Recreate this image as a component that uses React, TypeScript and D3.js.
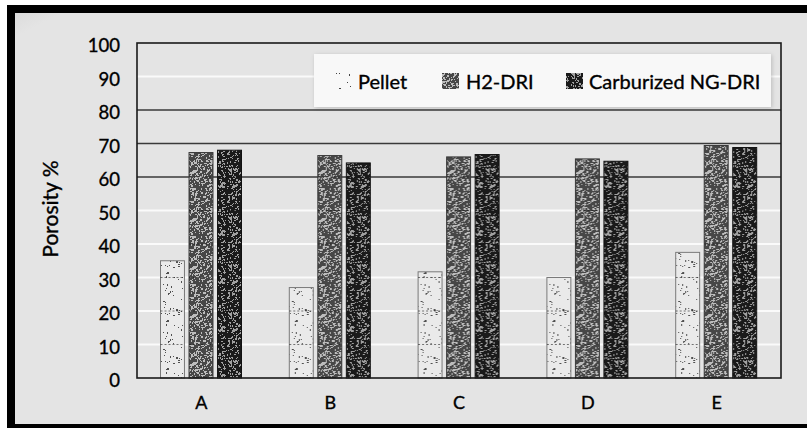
import React from "react";
import * as d3 from "d3";

const categories = ["A", "B", "C", "D", "E"];
const seriesNames = ["Pellet", "H2-DRI", "Carburized NG-DRI"];
const pellet = [35, 27, 31.7, 30, 37.5];
const h2dri = [67.3, 66.4, 66, 65.4, 69.4];
const carbNgDri = [68, 64.2, 66.7, 64.7, 68.8];
const yTicks = [0, 10, 20, 30, 40, 50, 60, 70, 80, 90, 100];
const darkGridValues = [60, 70, 80];

const W = 807;
const H = 428;
const plot = { left: 137, right: 781, top: 43, bottom: 378 };
const FONT = "Lato, 'Open Sans', sans-serif";
const textWeight = { stroke: "#000", strokeWidth: 0.35 };

// deterministic speckle positions for the fill textures
function speckles(seed: number, count: number, size: number, big: number) {
  let s = seed;
  const next = () => {
    s = (s * 1103515245 + 12345) % 2147483648;
    return s / 2147483648;
  };
  const pts: { x: number; y: number; w: number; h: number }[] = [];
  for (let i = 0; i < count; i++) {
    pts.push({
      x: Math.floor(next() * size),
      y: Math.floor(next() * size),
      w: next() < big ? 2 : 1,
      h: next() < big ? 2 : 1,
    });
  }
  return pts;
}

const textures = [
  { id: "tex-pellet", bg: "#eaeaea", dot: "#505050", count: 70, seed: 7, big: 0.25, stroke: "#7a7a7a" },
  { id: "tex-h2", bg: "#474747", dot: "#bdbdbd", count: 520, seed: 19, big: 0.3, stroke: "#3a3a3a" },
  { id: "tex-carb", bg: "#1a1a1a", dot: "#a0a0a0", count: 380, seed: 41, big: 0.35, stroke: "#111" },
];
const TILE = 48;

export default function App() {
  const values = [pellet, h2dri, carbNgDri];
  const y = d3.scaleLinear().domain([0, 100]).range([plot.bottom, plot.top]);
  const x0 = d3.scaleBand<string>().domain(categories).range([plot.left, plot.right]).padding(0);
  const x1 = d3
    .scaleBand<string>()
    .domain(seriesNames)
    .range([23.5, 104.5])
    .paddingInner(0.16)
    .paddingOuter(0);

  return (
    <div style={{ position: "absolute", left: 0, top: 0, width: W, height: H }}>
      <svg width={W} height={H} style={{ display: "block" }}>
        <defs>
          {textures.map((t) => (
            <pattern key={t.id} id={t.id} width={TILE} height={TILE} patternUnits="userSpaceOnUse">
              <rect width={TILE} height={TILE} fill={t.bg} />
              {speckles(t.seed, t.count, TILE, t.big).map((p, i) => (
                <rect key={i} x={p.x} y={p.y} width={p.w} height={p.h} fill={t.dot} />
              ))}
            </pattern>
          ))}
          <filter id="soft" x="-10%" y="-20%" width="120%" height="140%">
            <feDropShadow dx="1" dy="1" stdDeviation="2" floodColor="#000" floodOpacity="0.18" />
          </filter>
          <linearGradient id="panelShade" x1="0" y1="0" x2="1" y2="1">
            <stop offset="0" stopColor="#dcdcdc" />
            <stop offset="0.03" stopColor="#e4e4e4" />
            <stop offset="1" stopColor="#e4e4e4" />
          </linearGradient>
        </defs>

        {/* outer frame */}
        <rect x={0} y={0} width={W} height={H} fill="#ffffff" />
        <rect x={7} y={5} width={W - 7} height={H - 5} fill="#000" />
        <rect x={15} y={13} width={W - 15} height={424 - 13} fill="url(#panelShade)" />

        {/* gridlines */}
        {yTicks
          .filter((v) => v > 0 && v < 100)
          .map((v) => {
            const dark = darkGridValues.includes(v);
            return (
              <line
                key={v}
                x1={plot.left}
                x2={plot.right}
                y1={y(v)}
                y2={y(v)}
                stroke={dark ? "#3a3a3a" : "#fafafa"}
                strokeWidth={dark ? 1.5 : 2}
              />
            );
          })}

        {/* bars */}
        {categories.map((c, ci) => (
          <g key={c} transform={`translate(${x0(c)},0)`}>
            {seriesNames.map((s, si) => {
              const v = values[si][ci];
              const bx = x1(s)!;
              const bw = x1.bandwidth();
              return (
                <g key={s}>
                  <rect
                    x={bx}
                    y={y(v)}
                    width={bw}
                    height={y(0) - y(v)}
                    fill={`url(#${textures[si].id})`}
                    stroke={textures[si].stroke}
                    strokeWidth={1}
                  />
                  {yTicks
                    .filter((t) => t > 0 && t < v)
                    .map((t) => (
                      <line
                        key={t}
                        x1={bx}
                        x2={bx + bw}
                        y1={y(t)}
                        y2={y(t)}
                        stroke="#111"
                        strokeWidth={1}
                        strokeDasharray="2 2"
                        opacity={0.55}
                      />
                    ))}
                </g>
              );
            })}
          </g>
        ))}

        {/* plot frame */}
        <rect
          x={plot.left}
          y={plot.top}
          width={plot.right - plot.left}
          height={plot.bottom - plot.top}
          fill="none"
          stroke="#1a1a1a"
          strokeWidth={1.6}
        />

        {/* y tick labels */}
        {yTicks.map((v) => (
          <text
            key={v}
            x={120}
            y={y(v) + 2}
            textAnchor="end"
            dominantBaseline="central"
            fontFamily={FONT}
            fontSize={18.5}
            fill="#000"
            {...textWeight}
          >
            {v}
          </text>
        ))}

        {/* y axis title */}
        <text
          transform={`translate(58,209) rotate(-90)`}
          textAnchor="middle"
          fontFamily={FONT}
          fontSize={21}
          fill="#000"
          {...textWeight}
        >
          Porosity %
        </text>

        {/* x labels */}
        {categories.map((c) => (
          <text
            key={c}
            x={x0(c)! + x0.bandwidth() / 2}
            y={409}
            textAnchor="middle"
            fontFamily={FONT}
            fontSize={18}
            fill="#000"
            {...textWeight}
          >
            {c}
          </text>
        ))}

        {/* legend */}
        <g>
          <rect x={314} y={54} width={457} height={53} fill="#f8f8f8" filter="url(#soft)" />
          {[
            { sx: 336, tx: 358 },
            { sx: 442, tx: 466 },
            { sx: 566, tx: 589 },
          ].map((p, i) => (
            <g key={seriesNames[i]}>
              {i === 0 ? (
                <g fill="#444">
                  <rect x={p.sx} y={73} width={1} height={1} />
                  <rect x={p.sx + 3} y={73} width={1} height={1} />
                  <rect x={p.sx + 13} y={74} width={1} height={2} />
                  <rect x={p.sx + 11} y={82} width={1} height={1} />
                  <rect x={p.sx + 3} y={88} width={2} height={1} />
                  <rect x={p.sx + 14} y={86} width={1} height={1} />
                </g>
              ) : (
                <rect x={p.sx} y={73} width={17} height={16} fill={`url(#${textures[i].id})`} />
              )}
              <text x={p.tx} y={88.5} fontFamily={FONT} fontSize={20} fill="#000" {...textWeight}>
                {seriesNames[i]}
              </text>
            </g>
          ))}
        </g>
      </svg>
    </div>
  );
}
